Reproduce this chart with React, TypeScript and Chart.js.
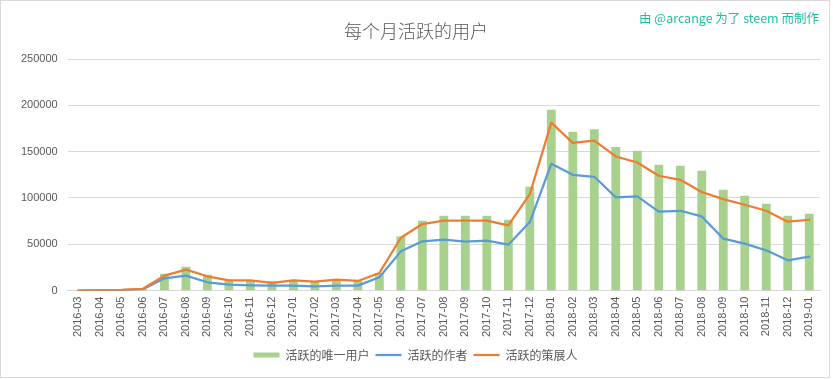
import React, { useEffect, useRef } from "react";
import { Chart, registerables } from "chart.js";

Chart.register(...registerables);

const months = [
  "2016-03","2016-04","2016-05","2016-06","2016-07","2016-08","2016-09","2016-10","2016-11","2016-12",
  "2017-01","2017-02","2017-03","2017-04","2017-05","2017-06","2017-07","2017-08","2017-09","2017-10",
  "2017-11","2017-12","2018-01","2018-02","2018-03","2018-04","2018-05","2018-06","2018-07","2018-08",
  "2018-09","2018-10","2018-11","2018-12","2019-01",
];

const uniqueUsers = [
  0, 300, 600, 1500, 18300, 25900, 17200, 11800, 11500, 10000,
  11800, 10000, 11800, 11000, 19000, 58500, 75500, 80800, 80800, 80800,
  76500, 112100, 195100, 171400, 174300, 154900, 150900, 135800, 134700, 129300,
  108900, 102400, 93800, 80800, 83000,
];

const authors = [
  0, 300, 500, 1500, 13300, 16200, 9000, 6500, 5700, 5400,
  5400, 4700, 5400, 5400, 14400, 42400, 53200, 55000, 52800, 53900,
  49600, 74000, 136900, 125000, 122900, 100600, 101700, 85200, 86200, 80100,
  56100, 50700, 43500, 32700, 36600,
];

const curators = [
  0, 500, 800, 2000, 16200, 22600, 15500, 11100, 11100, 8300,
  11100, 9700, 11900, 10400, 19000, 57100, 71900, 75500, 75500, 75500,
  70400, 104200, 181400, 159500, 162000, 144800, 138300, 124000, 119600, 106400,
  98800, 92700, 86200, 74400, 76500,
];

const seriesNames = ["活跃的唯一用户", "活跃的作者", "活跃的策展人"];
const titleText = "每个月活跃的用户";
const creditText = "由 @arcange 为了 steem 而制作";

const GREEN = "#a9d18e";
const BLUE = "#5b9bd5";
const ORANGE = "#ed7d31";
const TEXT = "#595959";
const GRID = "#d9d9d9";
const FONT = "'Liberation Sans', 'Noto Sans CJK SC', sans-serif";

export default function App() {
  const ref = useRef<HTMLCanvasElement | null>(null);

  useEffect(() => {
    if (!ref.current) return;
    const titlePlugin = {
      id: "customTitle",
      afterDraw(chart: any) {
        const ctx = chart.ctx;
        ctx.save();
        ctx.fillStyle = TEXT;
        ctx.font = "300 18px 'Noto Sans CJK SC', sans-serif";
        ctx.textAlign = "center";
        ctx.textBaseline = "middle";
        ctx.fillText(titleText, chart.width / 2 + 1, 30);
        ctx.restore();
      },
    };
    const chart = new Chart(ref.current, {
      type: "bar",
      data: {
        labels: months,
        datasets: [
          {
            type: "bar",
            label: seriesNames[0],
            data: uniqueUsers,
            backgroundColor: GREEN,
            barPercentage: 0.41,
            categoryPercentage: 1,
            order: 3,
          },
          {
            type: "line",
            label: seriesNames[1],
            data: authors,
            borderColor: BLUE,
            backgroundColor: BLUE,
            borderWidth: 2.25,
            pointRadius: 0,
            tension: 0,
            borderJoinStyle: "round",
            borderCapStyle: "round",
            order: 2,
          },
          {
            type: "line",
            label: seriesNames[2],
            data: curators,
            borderColor: ORANGE,
            backgroundColor: ORANGE,
            borderWidth: 2.25,
            pointRadius: 0,
            tension: 0,
            borderJoinStyle: "round",
            borderCapStyle: "round",
            order: 1,
          },
        ] as any,
      },
      options: {
        animation: false,
        responsive: false,
        maintainAspectRatio: false,
        layout: { padding: { left: 10, right: 9, top: 58, bottom: 6 } },
        font: { family: FONT },
        plugins: {
          title: { display: false },
          tooltip: { enabled: false },
          legend: {
            position: "bottom",
            labels: {
              color: TEXT,
              font: { family: "'Noto Sans CJK SC', sans-serif", size: 12 },
              usePointStyle: true,
              pointStyleWidth: 26,
              boxHeight: 8,
              padding: 6,
              generateLabels: () => [
                { text: seriesNames[0], fillStyle: GREEN, strokeStyle: GREEN, lineWidth: 5, pointStyle: "line", datasetIndex: 0, fontColor: TEXT },
                { text: seriesNames[1], fillStyle: BLUE, strokeStyle: BLUE, lineWidth: 2.25, pointStyle: "line", datasetIndex: 1, fontColor: TEXT },
                { text: seriesNames[2], fillStyle: ORANGE, strokeStyle: ORANGE, lineWidth: 2.25, pointStyle: "line", datasetIndex: 2, fontColor: TEXT },
              ] as any,
            },
          },
        },
        scales: {
          x: {
            offset: true,
            grid: { display: false, drawTicks: false },
            border: { display: true, color: GRID },
            ticks: {
              color: TEXT,
              font: { family: FONT, size: 11 },
              maxRotation: 90,
              minRotation: 90,
              autoSkip: false,
              padding: 6,
            },
          },
          y: {
            min: 0,
            max: 250000,
            grid: { color: GRID, drawTicks: false },
            border: { display: false },
            ticks: {
              stepSize: 50000,
              color: TEXT,
              font: { family: FONT, size: 11 },
              padding: 10,
              callback: (v: any) => String(v),
            },
          },
        },
      } as any,
      plugins: [titlePlugin],
    });
    return () => chart.destroy();
  }, []);

  return (
    <div
      style={{
        position: "absolute",
        left: 0,
        top: 0,
        width: 830,
        height: 378,
        boxSizing: "border-box",
        border: "1px solid #d9d9d9",
        background: "#fff",
      }}
    >
      <canvas ref={ref} width={828} height={376} style={{ display: "block" }} />
      <div
        style={{
          position: "absolute",
          left: 638,
          top: 9,
          color: "#1fbfa0",
          fontFamily: "'Noto Sans CJK SC', 'Open Sans', sans-serif",
          fontSize: 12.5,
          whiteSpace: "nowrap",
          lineHeight: "16px",
        }}
      >
        {creditText}
      </div>
    </div>
  );
}
